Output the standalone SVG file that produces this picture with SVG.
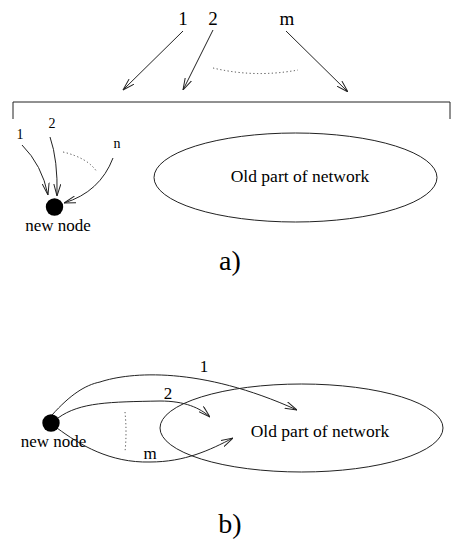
<svg xmlns="http://www.w3.org/2000/svg" width="463" height="545" viewBox="0 0 463 545">
<style>
.ln{fill:none;stroke:#222;stroke-width:1}
.dot{fill:none;stroke:#444;stroke-width:1;stroke-dasharray:1.2 2.5}
.t{font-family:"Liberation Serif",serif;fill:#000}
</style>
<defs>
<marker id="ah" viewBox="0 0 12 8" refX="12" refY="4" markerWidth="12" markerHeight="8" markerUnits="userSpaceOnUse" orient="auto">
<path d="M0,0.5 L12,4 L0,7.5" fill="none" stroke="#222" stroke-width="1"/>
</marker>
</defs>
<rect width="463" height="545" fill="#fff"/>
<g id="connectors">
<line class="ln" x1="183" y1="31" x2="123" y2="90" marker-end="url(#ah)"/>
<line class="ln" x1="213" y1="30" x2="183" y2="90" marker-end="url(#ah)"/>
<line class="ln" x1="286" y1="31" x2="348" y2="92" marker-end="url(#ah)"/>
<path class="dot" d="M213,68 Q255,78 298,70"/>
<path class="ln" d="M22,145 Q42,165 48,195" marker-end="url(#ah)"/>
<path class="ln" d="M50,137 Q58,160 57,196" marker-end="url(#ah)"/>
<path class="ln" d="M113,158 Q100,192 64,203" marker-end="url(#ah)"/>
<path class="dot" d="M63,152 Q88,158 97,172"/>
<path class="ln" d="M52,415 C70,395 85,385 100,382 C130,372 200,366 297,410" marker-end="url(#ah)"/>
<path class="ln" d="M58,418 C80,402 110,402 160,401 C185,401 200,408 210,417" marker-end="url(#ah)"/>
<path class="ln" d="M57,428 C80,445 110,463 150,462 C185,462 210,450 233,438" marker-end="url(#ah)"/>
<path class="dot" d="M125,412 Q127,432 125,452"/>
</g>
<g id="bracket">
<path class="ln" d="M13,119 L13,102 L450,102 L450,119"/>
</g>
<g id="labels-top">
<text class="t" x="183" y="25" font-size="19" text-anchor="middle">1</text>
<text class="t" x="213" y="25" font-size="19" text-anchor="middle">2</text>
<text class="t" x="287" y="25" font-size="19" text-anchor="middle">m</text>
<text class="t" x="20" y="139" font-size="14" text-anchor="middle">1</text>
<text class="t" x="52" y="128" font-size="14" text-anchor="middle">2</text>
<text class="t" x="117" y="148" font-size="14" text-anchor="middle">n</text>
</g>
<g id="new-node-a">
<circle cx="54.5" cy="207" r="8.7" fill="#000"/>
<text class="t" x="58" y="231" font-size="17" text-anchor="middle">new node</text>
</g>
<g id="old-network-a">
<ellipse class="ln" cx="295.5" cy="177.5" rx="141.5" ry="44.5"/>
<text class="t" x="300" y="182" font-size="17.5" text-anchor="middle">Old part of network</text>
</g>
<text class="t" x="230" y="270" font-size="28" text-anchor="middle">a)</text>
<g id="new-node-b">
<circle cx="51" cy="423" r="8.7" fill="#000"/>
<text class="t" x="53.5" y="447" font-size="17" text-anchor="middle">new node</text>
</g>
<g id="old-network-b">
<ellipse class="ln" cx="301.5" cy="428" rx="141.5" ry="44"/>
<text class="t" x="320" y="437" font-size="17.5" text-anchor="middle">Old part of network</text>
</g>
<g id="labels-b">
<text class="t" x="204" y="372" font-size="17" text-anchor="middle">1</text>
<text class="t" x="168" y="399" font-size="17" text-anchor="middle">2</text>
<text class="t" x="150" y="459" font-size="17" text-anchor="middle">m</text>
</g>
<text class="t" x="230" y="533" font-size="28" text-anchor="middle">b)</text>
</svg>
